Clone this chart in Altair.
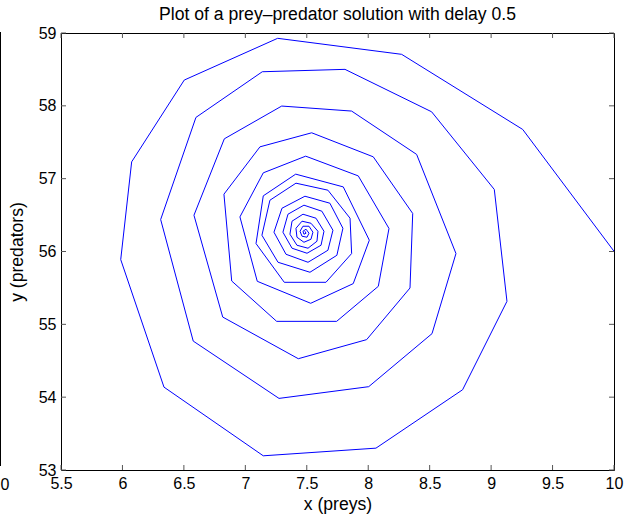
import altair as alt
import pandas as pd

# Phase-plane trajectory of the delayed prey-predator model (preys x, predators y)
x_preys = [
    10.000, 9.257, 8.272, 7.263, 6.503, 6.075, 5.986, 6.338, 7.146, 8.063,
    8.768, 9.129, 9.026, 8.516, 7.811, 7.138, 6.598, 6.311, 6.576, 7.274,
    8.004, 8.519, 8.714, 8.394, 7.865, 7.296, 6.829, 6.582, 6.816, 7.431,
    7.987, 8.340, 8.362, 8.041, 7.540, 7.119, 6.826, 6.889, 7.255, 7.743,
    8.082, 8.169, 7.919, 7.491, 7.146, 6.956, 7.097, 7.532, 7.878, 8.009,
    7.797, 7.410, 7.146, 7.087, 7.317, 7.656, 7.865, 7.852, 7.672, 7.412,
    7.200, 7.135, 7.266, 7.526, 7.745, 7.794, 7.688, 7.485, 7.298, 7.233,
    7.331, 7.510, 7.672, 7.713, 7.623, 7.477, 7.347, 7.306, 7.380, 7.502,
    7.616, 7.640, 7.575, 7.469, 7.380, 7.363, 7.420, 7.510, 7.583, 7.591,
    7.534, 7.461, 7.412, 7.420, 7.477, 7.534, 7.550, 7.518, 7.469, 7.445,
    7.461, 7.502, 7.518, 7.494, 7.469, 7.477, 7.494, 7.485,
]
y_predators = [
    56.003, 57.676, 58.707, 58.927, 58.354, 57.231, 55.889, 54.138, 53.195, 53.300,
    54.102, 55.316, 56.852, 57.918, 58.501, 58.468, 57.841, 56.439, 54.770, 53.983,
    54.144, 54.872, 55.972, 57.333, 57.928, 57.997, 57.547, 56.498, 55.100, 54.528,
    54.790, 55.499, 56.522, 57.300, 57.630, 57.437, 56.787, 55.595, 55.041, 55.041,
    55.522, 56.316, 57.038, 57.309, 57.080, 56.475, 55.591, 55.289, 55.559, 56.155,
    56.887, 57.062, 56.764, 56.109, 55.577, 55.577, 55.972, 56.457, 56.842, 56.938,
    56.704, 56.223, 55.852, 55.715, 55.948, 56.319, 56.663, 56.759, 56.594, 56.265,
    55.962, 55.852, 56.017, 56.292, 56.553, 56.636, 56.512, 56.265, 56.045, 55.976,
    56.086, 56.278, 56.457, 56.512, 56.416, 56.237, 56.086, 56.045, 56.141, 56.278,
    56.388, 56.416, 56.319, 56.196, 56.127, 56.168, 56.265, 56.347, 56.347, 56.278,
    56.210, 56.196, 56.251, 56.306, 56.278, 56.237, 56.251, 56.278,
]

x_ticks = [5.5, 6, 6.5, 7, 7.5, 8, 8.5, 9, 9.5, 10]
y_ticks = [53, 54, 55, 56, 57, 58, 59]

W, H = 553, 437
FONT = "Liberation Sans"

traj = pd.DataFrame({"step": range(len(x_preys)), "x": x_preys, "y": y_predators})
xt = pd.DataFrame({"x": x_ticks})
yt = pd.DataFrame({"y": y_ticks})

xscale = alt.Scale(domain=[5.5, 10], nice=False, zero=False)
yscale = alt.Scale(domain=[53, 59], nice=False, zero=False)

axis_common = dict(
    ticks=False, domain=False, grid=False, labelFlush=False, labelOverlap=False,
    labelFont=FONT, labelFontSize=16, labelColor="black",
    titleFont=FONT, titleFontSize=17.6, titleFontWeight="normal", titleColor="black",
    format="~g",
)
x_axis = alt.Axis(values=x_ticks, labelPadding=5, titlePadding=4, **axis_common)
y_axis = alt.Axis(values=y_ticks, labelPadding=5, titlePadding=12, **axis_common)

X = alt.X("x:Q", scale=xscale, axis=x_axis, title="x (preys)")
Y = alt.Y("y:Q", scale=yscale, axis=y_axis, title="y (predators)")

line = alt.Chart(traj).mark_line(color="#0000ff", strokeWidth=1).encode(
    x=X, y=Y, order="step:Q",
)

tick_color = "#555555"
tl = 5
x_bottom = alt.Chart(xt).mark_rule(color=tick_color).encode(
    x=X, y=alt.value(H), y2=alt.value(H - tl))
x_top = alt.Chart(xt).mark_rule(color=tick_color).encode(
    x=X, y=alt.value(0), y2=alt.value(tl))
y_left = alt.Chart(yt).mark_rule(color=tick_color).encode(
    y=Y, x=alt.value(0), x2=alt.value(tl))
y_right = alt.Chart(yt).mark_rule(color=tick_color).encode(
    y=Y, x=alt.value(W), x2=alt.value(W - tl))

# Edge of a neighbouring axes: its frame line and its last tick label
edge_line = alt.Chart(pd.DataFrame({"k": [0]})).mark_rule(color="black").encode(
    x=alt.value(-60.5), y=alt.value(-1), y2=alt.value(433))
edge_label = alt.Chart(pd.DataFrame({"t": ["0"]})).mark_text(
    font=FONT, fontSize=16, color="black", align="center", baseline="middle"
).encode(text="t:N", x=alt.value(-56), y=alt.value(452))

chart = alt.layer(
    line, x_bottom, x_top, y_left, y_right, edge_line, edge_label
).properties(
    width=W, height=H,
    padding={"left": 61, "top": 33, "right": 20, "bottom": 50},
    autosize=alt.AutoSizeParams(type="none"),
    title=alt.TitleParams(
        "Plot of a prey\u2013predator solution with delay 0.5",
        font=FONT, fontSize=17.6, fontWeight="normal", color="black",
        anchor="middle", offset=1,
    ),
).configure_view(stroke="black", strokeWidth=1)

chart.save("out.html", embed_options={"renderer": "svg", "actions": False})
